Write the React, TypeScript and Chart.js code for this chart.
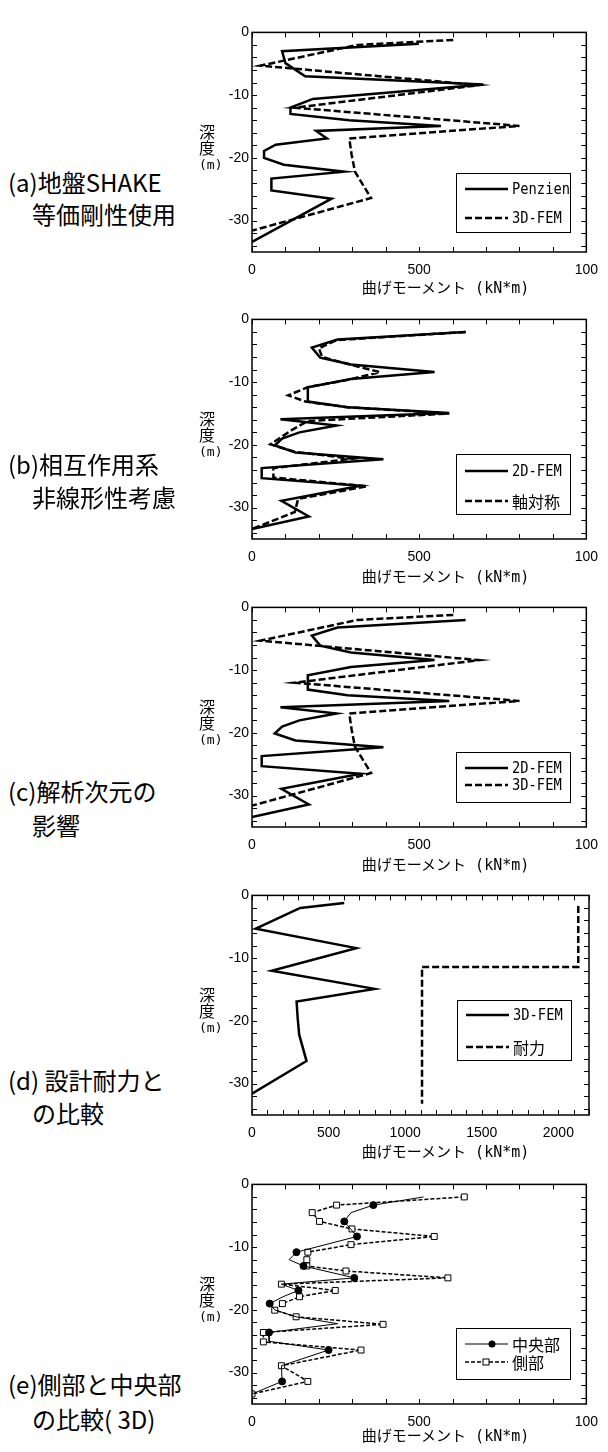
import React, { useEffect, useRef } from "react";
import { Chart, registerables } from "chart.js";

Chart.register(...registerables);

// ---------------- data (moment kN*m, depth m) ----------------
const penzienMoment = [499, 90, 100, 159, 692, 182, 115, 115, 291, 565, 192, 224, 71, 36, 36, 95, 276, 58, 58, 238, 0];
const penzienDepth = [-1.8, -3.0, -4.9, -7.0, -8.3, -10.6, -12.0, -13.0, -14.0, -14.9, -15.7, -16.9, -17.9, -18.9, -20.0, -21.1, -22.2, -23.3, -25.2, -26.5, -33.4];

const fem3dMoment = [602, 315, 25, 680, 128, 800, 291, 298, 308, 356, 0];
const fem3dDepth = [-1.2, -2.0, -5.3, -8.4, -12.0, -14.9, -16.9, -19.5, -22.2, -26.4, -31.6];

const fem2dMoment = [639, 256, 179, 204, 296, 546, 296, 167, 167, 286, 590, 85, 253, 142, 90, 68, 130, 393, 29, 29, 325, 88, 170, 0];
const fem2dDepth = [-2.0, -3.2, -4.5, -6.1, -7.2, -8.4, -9.5, -10.8, -13.1, -14.0, -14.9, -15.9, -16.9, -18.0, -19.0, -20.1, -21.2, -22.3, -23.7, -25.3, -26.5, -28.9, -31.4, -33.4];

const axisymMoment = [639, 253, 200, 210, 300, 383, 290, 167, 108, 160, 286, 590, 166, 120, 55, 128, 300, 64, 64, 345, 138, 128, 0];
const axisymDepth = [-2.0, -3.3, -4.6, -6.0, -7.3, -8.4, -9.6, -10.8, -12.1, -13.1, -14.0, -15.0, -16.2, -17.6, -19.9, -21.1, -22.2, -23.7, -25.2, -26.6, -28.6, -30.7, -33.4];

const capacityMoment = [2130, 2130, 1110, 1110];
const capacityDepth = [-1.7, -11.4, -11.4, -33.2];

const centerMoment = [513, 363, 296, 276, 314, 133, 111, 154, 306, 88, 139, 93, 53, 68, 132, 256, 51, 51, 229, 88, 90, 0];
const centerDepth = [-2.0, -3.3, -4.5, -5.9, -8.3, -10.8, -12.0, -13.0, -14.9, -15.9, -16.9, -17.9, -19.0, -20.0, -21.1, -22.2, -23.6, -25.0, -26.4, -28.9, -31.4, -33.4];
const centerMarkedIdx = [1, 3, 4, 5, 7, 8, 10, 12, 16, 18, 20];

const sideMoment = [635, 253, 180, 202, 299, 545, 296, 167, 164, 164, 281, 586, 88, 249, 142, 91, 68, 132, 392, 34, 34, 326, 88, 167, 0];
const sideDepth = [-2.0, -3.3, -4.5, -5.9, -7.1, -8.3, -9.6, -10.8, -12.0, -13.0, -13.8, -14.9, -15.9, -16.9, -17.9, -19.0, -20.05, -21.1, -22.3, -23.6, -25.1, -26.4, -28.9, -31.4, -33.4];

// ticks
const depthTicks = [0, -10, -20, -30];
const momentTicks1000 = [0, 500, 1000];
const momentLabels1000 = ["0", "500", "100"];
const momentTicks2200 = [0, 500, 1000, 1500, 2000];
const momentLabels2200 = ["0", "500", "1000", "1500", "2000"];

const xTitle = "曲げモーメント (kN*m)";
const yTitle = ["深", "度", "(m)"];

// ---------------- layout ----------------
const PANEL_TOPS = [31, 318, 606, 894, 1183];
const PLOT_H = 221;
const X_TITLE_Y = [289, 578, 866, 1153, 1437];

type Kind = "solid" | "dashed" | "center" | "side";
type SeriesDef = { label: string; xs: number[]; ys: number[]; kind: Kind };
type PanelDef = {
  series: SeriesDef[];
  xMax: number;
  xTicks: number[];
  xLabels: string[];
  caption: [string, string];
  captionY: [number, number];
  legend: { x: number; y: number; w: number; h: number; rows: number[] };
};

const panels: PanelDef[] = [
  {
    series: [
      { label: "Penzien", xs: penzienMoment, ys: penzienDepth, kind: "solid" },
      { label: "3D-FEM", xs: fem3dMoment, ys: fem3dDepth, kind: "dashed" },
    ],
    xMax: 1000, xTicks: momentTicks1000, xLabels: momentLabels1000,
    caption: ["(a)地盤SHAKE", "等価剛性使用"], captionY: [183, 215],
    legend: { x: 204, y: 141, w: 114, h: 59, rows: [16, 45] },
  },
  {
    series: [
      { label: "2D-FEM", xs: fem2dMoment, ys: fem2dDepth, kind: "solid" },
      { label: "軸対称", xs: axisymMoment, ys: axisymDepth, kind: "dashed" },
    ],
    xMax: 1000, xTicks: momentTicks1000, xLabels: momentLabels1000,
    caption: ["(b)相互作用系", "非線形性考慮"], captionY: [465, 498],
    legend: { x: 204, y: 135, w: 114, h: 60, rows: [17, 47] },
  },
  {
    series: [
      { label: "2D-FEM", xs: fem2dMoment, ys: fem2dDepth, kind: "solid" },
      { label: "3D-FEM", xs: fem3dMoment, ys: fem3dDepth, kind: "dashed" },
    ],
    xMax: 1000, xTicks: momentTicks1000, xLabels: momentLabels1000,
    caption: ["(c)解析次元の", "影響"], captionY: [792, 826],
    legend: { x: 204, y: 145, w: 114, h: 50, rows: [16, 33] },
  },
  {
    series: [
      { label: "3D-FEM", xs: fem3dMoment, ys: fem3dDepth, kind: "solid" },
      { label: "耐力", xs: capacityMoment, ys: capacityDepth, kind: "dashed" },
    ],
    xMax: 2200, xTicks: momentTicks2200, xLabels: momentLabels2200,
    caption: ["(d) 設計耐力と", "の比較"], captionY: [1081, 1114],
    legend: { x: 205, y: 105, w: 114, h: 60, rows: [15, 47] },
  },
  {
    series: [
      { label: "中央部", xs: centerMoment, ys: centerDepth, kind: "center" },
      { label: "側部", xs: sideMoment, ys: sideDepth, kind: "side" },
    ],
    xMax: 1000, xTicks: momentTicks1000, xLabels: momentLabels1000,
    caption: ["(e)側部と中央部", "の比較( 3D)"], captionY: [1385, 1420],
    legend: { x: 204, y: 144, w: 114, h: 51, rows: [16, 34] },
  },
];

// ---------------- plugins ----------------
const frameTicks = {
  id: "frameTicks",
  afterDraw(chart: any, _args: any, opts: any) {
    const { ctx, chartArea: a, scales } = chart;
    const xs = scales.x, ys = scales.y;
    ctx.save();
    ctx.strokeStyle = "#000";
    ctx.lineWidth = 1;
    ctx.beginPath();
    for (let v = xs.min; v <= xs.max + 1e-6; v += opts.xStep) {
      const px = Math.round(xs.getPixelForValue(v)) + 0.5;
      ctx.moveTo(px, a.top); ctx.lineTo(px, a.top + 5);
      ctx.moveTo(px, a.bottom); ctx.lineTo(px, a.bottom - 5);
    }
    for (let v = ys.max; v >= ys.min - 1e-6; v -= opts.yStep) {
      const py = Math.round(ys.getPixelForValue(v)) + 0.5;
      ctx.moveTo(a.left, py); ctx.lineTo(a.left + 5, py);
      ctx.moveTo(a.right, py); ctx.lineTo(a.right - 5, py);
    }
    ctx.stroke();
    ctx.lineWidth = 1.5;
    ctx.strokeRect(a.left, a.top, a.right - a.left, a.bottom - a.top);
    ctx.restore();
  },
};

const boxLegend = {
  id: "boxLegend",
  afterDraw(chart: any, _args: any, opts: any) {
    const { ctx, chartArea } = chart;
    const bx = Math.round(chartArea.left + opts.x);
    const by = Math.round(chartArea.top + opts.y);
    ctx.save();
    ctx.fillStyle = "#fff";
    ctx.fillRect(bx, by, opts.w, opts.h);
    ctx.strokeStyle = "#000";
    ctx.lineWidth = 1;
    ctx.strokeRect(bx + 0.5, by + 0.5, opts.w, opts.h);
    chart.data.datasets.forEach((ds: any, i: number) => {
      const y = by + opts.rows[i];
      ctx.setLineDash(ds.borderDash || []);
      ctx.lineWidth = ds.borderWidth;
      ctx.strokeStyle = "#000";
      ctx.beginPath();
      ctx.moveTo(bx + 9, y);
      ctx.lineTo(bx + 52, y);
      ctx.stroke();
      ctx.setLineDash([]);
      if (ds.markerKind === "circle") {
        ctx.fillStyle = "#000";
        ctx.beginPath();
        ctx.arc(bx + 36, y, 3.5, 0, Math.PI * 2);
        ctx.fill();
      } else if (ds.markerKind === "square") {
        ctx.fillStyle = "#fff";
        ctx.fillRect(bx + 27, y - 3, 6, 6);
        ctx.lineWidth = 1;
        ctx.strokeRect(bx + 27, y - 3, 6, 6);
      }
      ctx.fillStyle = "#000";
      ctx.textBaseline = "middle";
      ctx.textAlign = "left";
      const ascii = /^[\x00-\x7F]*$/.test(ds.label);
      if (ascii) {
        ctx.save();
        ctx.font = '16px "DejaVu Sans Mono", monospace';
        ctx.translate(bx + 56, y + 1);
        ctx.scale(0.86, 1);
        ctx.fillText(ds.label, 0, 0);
        ctx.restore();
      } else {
        ctx.font = '16px "Noto Sans CJK JP", sans-serif';
        ctx.fillText(ds.label, bx + 56, y + 1);
      }
    });
    ctx.restore();
  },
};

function datasetFor(s: SeriesDef): any {
  const data = s.xs.map((x, i) => ({ x, y: s.ys[i] }));
  const base: any = {
    label: s.label,
    data,
    showLine: true,
    borderColor: "#000",
    backgroundColor: "#000",
    tension: 0,
    pointRadius: 0,
    pointHoverRadius: 0,
  };
  if (s.kind === "solid") return { ...base, borderWidth: 2.5, borderDash: [] };
  if (s.kind === "dashed") return { ...base, borderWidth: 2.5, borderDash: [7, 3] };
  if (s.kind === "center")
    return {
      ...base,
      borderWidth: 1,
      borderDash: [],
      markerKind: "circle",
      pointStyle: "circle",
      pointRadius: (c: any) => (centerMarkedIdx.includes(c.dataIndex) ? 3.5 : 0),
      pointBackgroundColor: "#000",
      pointBorderColor: "#000",
    };
  return {
    ...base,
    borderWidth: 1.5,
    borderDash: [4, 2],
    markerKind: "square",
    pointStyle: "rect",
    pointRadius: 4.2,
    pointBackgroundColor: "#fff",
    pointBorderColor: "#000",
    pointBorderWidth: 1,
  };
}

const CANVAS_W = 408;
const CANVAS_H = 10 + PLOT_H + 30;
const tickFont = { family: '"Liberation Sans", Arial, sans-serif', size: 14 };

function Panel({ def }: { def: PanelDef }) {
  const ref = useRef<HTMLCanvasElement | null>(null);
  useEffect(() => {
    if (!ref.current) return;
    const chart = new Chart(ref.current, {
      type: "scatter",
      data: { datasets: def.series.map(datasetFor) },
      options: {
        animation: false,
        responsive: false,
        events: [],
        layout: { padding: { top: 10, right: 19, left: 0, bottom: 0 } },
        plugins: {
          legend: { display: false },
          tooltip: { enabled: false },
          frameTicks: { xStep: 100, yStep: 2 },
          boxLegend: def.legend,
        } as any,
        scales: {
          x: {
            type: "linear",
            min: 0,
            max: def.xMax,
            afterFit: (s: any) => { s.height = 30; },
            afterBuildTicks: (s: any) => { s.ticks = def.xTicks.map((v) => ({ value: v })); },
            ticks: {
              autoSkip: false,
              maxRotation: 0,
              padding: 10,
              color: "#000",
              font: tickFont,
              callback: (_v: any, i: number) => def.xLabels[i],
            },
            grid: { display: false, drawTicks: false },
            border: { display: false },
          },
          y: {
            type: "linear",
            min: -35,
            max: 0,
            afterFit: (s: any) => { s.width = 52; },
            afterBuildTicks: (s: any) => { s.ticks = depthTicks.map((v) => ({ value: v })); },
            ticks: {
              autoSkip: false,
              padding: 3,
              color: "#000",
              font: tickFont,
              callback: (v: any) => String(v),
            },
            grid: { display: false, drawTicks: false },
            border: { display: false },
          },
        },
      } as any,
      plugins: [frameTicks, boxLegend],
    });
    return () => chart.destroy();
  }, [def]);
  return (
    <canvas
      ref={ref}
      width={CANVAS_W}
      height={CANVAS_H}
      style={{ width: CANVAS_W, height: CANVAS_H, display: "block" }}
    />
  );
}

export default function App() {
  return (
    <div
      style={{
        position: "absolute",
        left: 0,
        top: 0,
        width: 608,
        height: 1452,
        background: "#fff",
        overflow: "hidden",
        color: "#000",
      }}
    >
      {panels.map((p, i) => {
        const top = PANEL_TOPS[i];
        return (
          <React.Fragment key={i}>
            <div style={{ position: "absolute", left: 200, top: top - 10 }}>
              <Panel def={p} />
            </div>
            <div
              style={{
                position: "absolute",
                left: 199,
                top: top + 92,
                width: 30,
                fontFamily: '"Noto Sans CJK JP", sans-serif',
                fontSize: 16,
                lineHeight: "16px",
              }}
            >
              <div>{yTitle[0]}</div>
              <div>{yTitle[1]}</div>
              <div style={{ fontFamily: '"DejaVu Sans Mono", monospace', fontSize: 13, lineHeight: "19px" }}>
                {yTitle[2]}
              </div>
            </div>
            <div
              style={{
                position: "absolute",
                left: 345,
                width: 201,
                top: X_TITLE_Y[i] - 11,
                textAlign: "center",
                whiteSpace: "nowrap",
                fontFamily: '"DejaVu Sans Mono", "Noto Sans CJK JP", monospace',
                fontSize: 15,
                lineHeight: "20px",
              }}
            >
              {xTitle}
            </div>
            <div
              style={{
                position: "absolute",
                left: 8,
                top: p.captionY[0] - 18,
                whiteSpace: "nowrap",
                fontFamily: '"Noto Sans CJK JP", sans-serif',
                fontSize: 24,
                lineHeight: "34px",
              }}
            >
              {p.caption[0]}
            </div>
            <div
              style={{
                position: "absolute",
                left: 32,
                top: p.captionY[1] - 18,
                whiteSpace: "nowrap",
                fontFamily: '"Noto Sans CJK JP", sans-serif',
                fontSize: 24,
                lineHeight: "34px",
              }}
            >
              {p.caption[1]}
            </div>
          </React.Fragment>
        );
      })}
    </div>
  );
}
